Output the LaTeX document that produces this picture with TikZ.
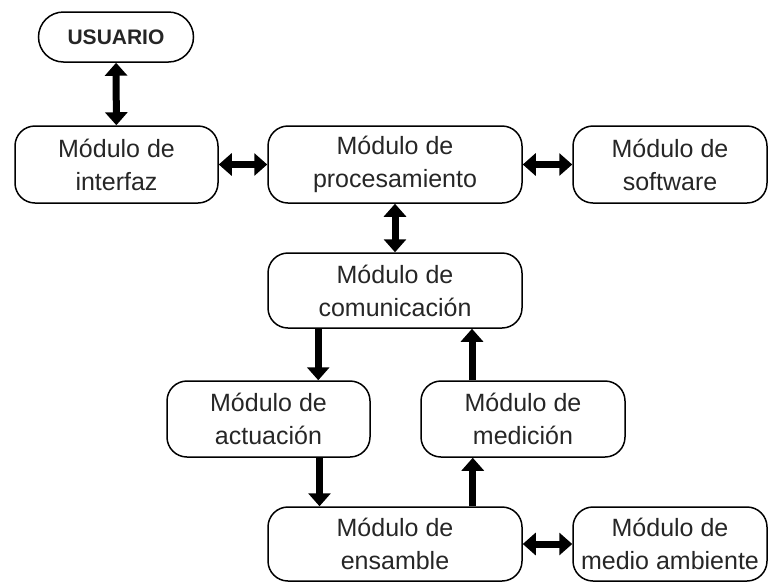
\documentclass[tikz,border=0pt]{standalone}
\usepackage{fontspec}
\setmainfont{Liberation Sans}
\usepackage{tikz}
\usetikzlibrary{arrows.meta}
\tikzstyle{every node}=[draw,line width=1.5pt,rounded corners=20pt,align=center,inner sep=0pt,text=black!85,font=\fontsize{25}{33}\selectfont]
\tikzstyle{twoway}=[line width=7pt,{Triangle[width=22pt,length=13pt]}-{Triangle[width=22pt,length=13pt]}]
\tikzstyle{oneway}=[line width=7pt,-{Triangle[width=22pt,length=13pt]}]

\begin{document}
\begin{tikzpicture}[x=1pt,y=-1pt]
\useasboundingbox (0,0) rectangle (768,582);
\node[minimum width=155pt,minimum height=50pt,rounded corners=25pt,font=\fontsize{21}{25}\selectfont\bfseries] (usuario) at (116,37) {USUARIO};
\node[minimum width=203pt,minimum height=77pt] (interfaz) at (116.5,164.5) {Módulo de\\interfaz};
\node[minimum width=254pt,minimum height=77pt] (proc) at (395,164.5) {Módulo de\\procesamiento};
\node[minimum width=194pt,minimum height=77pt] (soft) at (670,164.5) {Módulo de\\software};
\node[minimum width=254pt,minimum height=75pt] (com) at (395,290.5) {Módulo de\\comunicación};
\node[minimum width=203pt,minimum height=76pt] (act) at (268.5,419) {Módulo de\\actuación};
\node[minimum width=204pt,minimum height=76pt] (med) at (523,419) {Módulo de\\medición};
\node[minimum width=254pt,minimum height=74pt] (ens) at (395,544) {Módulo de\\ensamble};
\node[minimum width=194pt,minimum height=74pt] (amb) at (670,544) {Módulo de\\medio ambiente};
% enlaces
\draw[twoway] (usuario)--(interfaz);
\draw[twoway] (interfaz)--(proc);
\draw[twoway] (proc)--(soft);
\draw[twoway] (proc)--(com);
\draw[twoway] (ens)--(amb);
\draw[oneway] ([xshift=51pt]com.south west)--([xshift=51pt]com.south west |- act.north);
\draw[oneway] ([xshift=51pt]act.south)--([xshift=51pt]act.south |- ens.north);
\draw[oneway] ([xshift=-50pt]ens.north east)--([xshift=-50pt]ens.north east |- med.south);
\draw[oneway] ([xshift=-51pt]med.north)--([xshift=-51pt]med.north |- com.south);
\end{tikzpicture}
\end{document}
